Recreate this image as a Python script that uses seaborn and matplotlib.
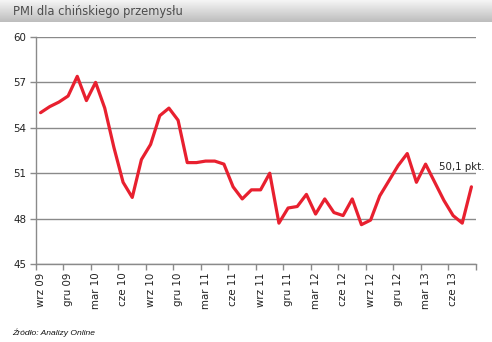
import numpy as np
import pandas as pd
import matplotlib
matplotlib.use("Agg")
import matplotlib.pyplot as plt
import seaborn as sns

months = ["wrz 09", "gru 09", "mar 10", "cze 10", "wrz 10", "gru 10", "mar 11", "cze 11",
          "wrz 11", "gru 11", "mar 12", "cze 12", "wrz 12", "gru 12", "mar 13", "cze 13"]
pmi = [55.0, 55.4, 55.7, 56.1, 57.4, 55.8, 57.0, 55.3, 52.7, 50.4, 49.4, 51.9,
       52.9, 54.8, 55.3, 54.5, 51.7, 51.7, 51.8, 51.8, 51.6, 50.1, 49.3, 49.9,
       49.9, 51.0, 47.7, 48.7, 48.8, 49.6, 48.3, 49.3, 48.4, 48.2, 49.3, 47.6,
       47.9, 49.5, 50.5, 51.5, 52.3, 50.4, 51.6, 50.4, 49.2, 48.2, 47.7, 50.1]
yticks = [45, 48, 51, 54, 57, 60]
title = "PMI dla chińskiego przemysłu"
source = "Źródło: Analizy Online"
last_label = "50,1 pkt."

sns.set_theme(style="white")
plt.rcParams['font.family'] = ['DejaVu Sans']

df = pd.DataFrame({"idx": np.arange(len(pmi)), "pmi": pmi})

fig = plt.figure(figsize=(4.92, 3.42), dpi=100)
fig.patch.set_facecolor("white")

# header gradient bar
hax = fig.add_axes([0, 1 - 22 / 342, 1, 22 / 342])
grad = np.linspace(0.96, 0.74, 64).reshape(-1, 1)
hax.imshow(np.repeat(grad, 2, axis=1), cmap="gray", vmin=0, vmax=1, aspect="auto",
           extent=[0, 1, 0, 1])
hax.set_axis_off()
fig.text(13 / 492, 1 - 12 / 342, title, fontsize=8.3, color="#4d4d4d", va="center", ha="left")

ax = fig.add_axes([36 / 492, 1 - 264 / 342, (476 - 36) / 492, (264 - 37) / 342])
sns.lineplot(data=df, x="idx", y="pmi", ax=ax, color="#e8202f", linewidth=2.3)

ax.set_xlim(-0.5, len(pmi) - 0.5)
ax.set_ylim(45, 60)
ax.set_yticks(yticks)
ax.set_yticklabels([str(t) for t in yticks])
ax.yaxis.grid(True, color="#8a8a8a", linewidth=1)
ax.set_axisbelow(True)

ax.set_xticks(np.arange(-0.5, len(pmi), 3))
ax.set_xticklabels([])
ax.set_xticks(np.arange(0, len(pmi), 3), minor=True)
ax.set_xticklabels(months, minor=True, rotation=90)
ax.tick_params(axis="x", which="major", length=4, width=1, color="#8a8a8a", direction="out", bottom=True)
ax.tick_params(axis="x", which="minor", length=0, pad=6, labelsize=7.4, labelcolor="#222222")
ax.tick_params(axis="y", length=4, width=1, color="#8a8a8a", direction="out", left=True,
               labelsize=7.4, labelcolor="#222222", pad=3)
ax.set_xlabel("")
ax.set_ylabel("")
for s in ["top", "right"]:
    ax.spines[s].set_visible(False)
for s in ["left", "bottom"]:
    ax.spines[s].set_color("#8a8a8a")
    ax.spines[s].set_linewidth(1)

ax.annotate(last_label, xy=(len(pmi) - 1, pmi[-1]), xytext=(-23, 14.5),
            textcoords="offset points", fontsize=7.4, color="#222222", va="center", ha="left")

fig.text(12 / 492, 1 - 333 / 342, source, fontsize=6.1, style="italic", color="#111111",
         va="center", ha="left", family=["Liberation Sans", "DejaVu Sans"])

fig.savefig("out.png", dpi=100, facecolor="white")
